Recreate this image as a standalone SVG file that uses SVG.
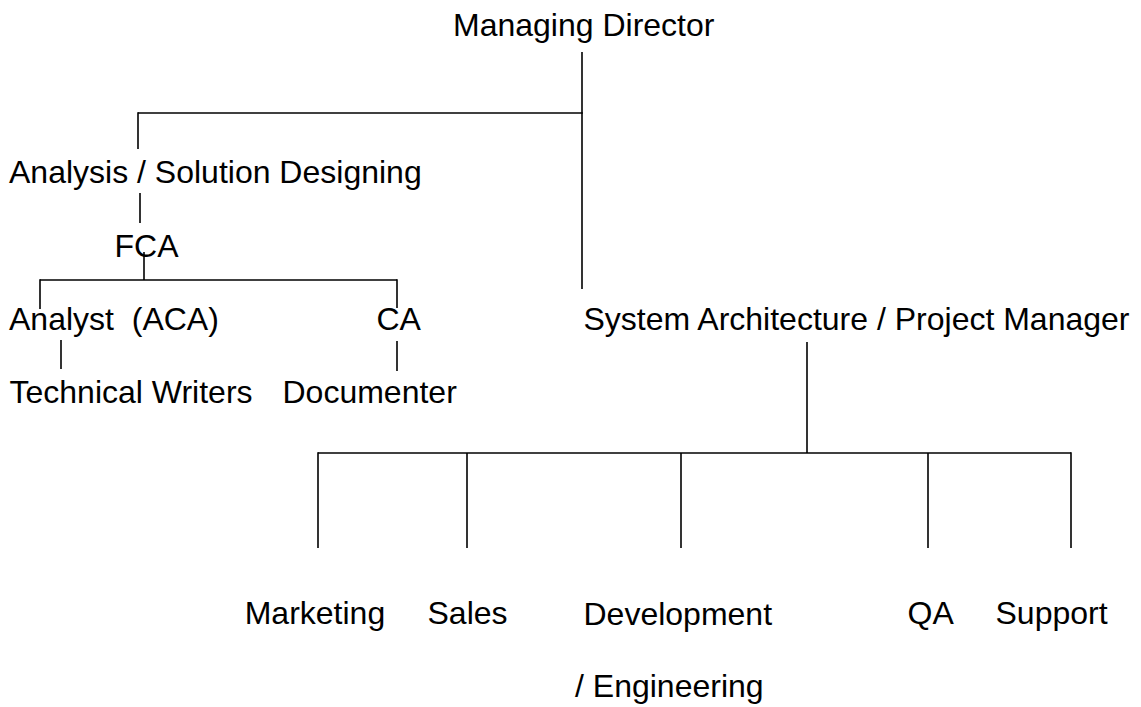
<svg xmlns="http://www.w3.org/2000/svg" width="1141" height="707" viewBox="0 0 1141 707">
<style>
  .t { font-family: "Liberation Sans", Arial, sans-serif; font-size: 32px; fill: #000; white-space: pre; }
  .c line { stroke: #000; stroke-width: 1.6; fill: none; }
</style>
<rect width="1141" height="707" fill="#fff"/>
<g id="connectors" class="c">
  <line x1="582" y1="52" x2="582" y2="289"/>
  <line x1="138" y1="113" x2="582.8" y2="113"/>
  <line x1="138" y1="112.2" x2="138" y2="149"/>
  <line x1="140" y1="193" x2="140" y2="223"/>
  <line x1="144" y1="252" x2="144" y2="280"/>
  <line x1="40" y1="280" x2="397" y2="280"/>
  <line x1="40" y1="279.2" x2="40" y2="309"/>
  <line x1="397" y1="279.2" x2="397" y2="308"/>
  <line x1="61" y1="340" x2="61" y2="369"/>
  <line x1="397" y1="341" x2="397" y2="371"/>
  <line x1="807" y1="342" x2="807" y2="453"/>
  <line x1="318" y1="453" x2="1071" y2="453"/>
  <line x1="318" y1="452.2" x2="318" y2="548"/>
  <line x1="467" y1="453" x2="467" y2="548"/>
  <line x1="681" y1="453" x2="681" y2="548"/>
  <line x1="928" y1="453" x2="928" y2="548"/>
  <line x1="1071" y1="452.2" x2="1071" y2="548"/>
</g>
<g id="managing-director"><text class="t" x="453" y="36">Managing Director</text></g>
<g id="analysis"><text class="t" x="9" y="183">Analysis / Solution Designing</text></g>
<g id="fca"><text class="t" x="114.5" y="257">FCA</text></g>
<g id="analyst"><text class="t" x="9" y="330" xml:space="preserve">Analyst  (ACA)</text></g>
<g id="ca"><text class="t" x="376.5" y="330">CA</text></g>
<g id="system-architecture"><text class="t" x="583.5" y="330">System Architecture / Project Manager</text></g>
<g id="technical-writers"><text class="t" x="9.5" y="403">Technical Writers</text></g>
<g id="documenter"><text class="t" x="282.5" y="403">Documenter</text></g>
<g id="marketing"><text class="t" x="244.7" y="624">Marketing</text></g>
<g id="sales"><text class="t" x="427.5" y="624">Sales</text></g>
<g id="development"><text class="t" x="583.5" y="625">Development</text><text class="t" x="575" y="697">/ Engineering</text></g>
<g id="qa"><text class="t" x="907.5" y="624">QA</text></g>
<g id="support"><text class="t" x="995.5" y="624">Support</text></g>
</svg>
